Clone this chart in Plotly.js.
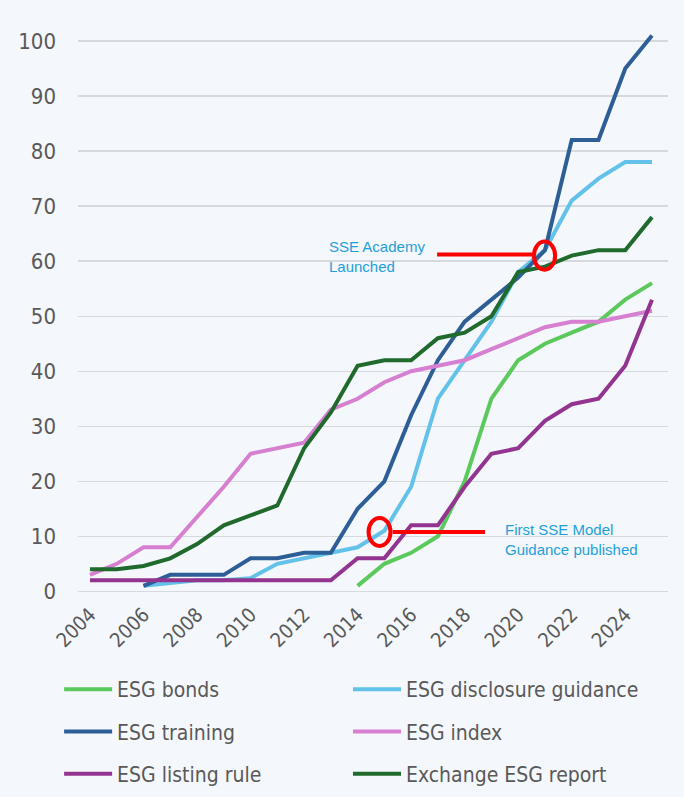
<!DOCTYPE html>
<html>
<head>
<meta charset="utf-8">
<script src="https://cdn.plot.ly/plotly-3.0.1.min.js"></script>
<style>
  html, body { margin: 0; padding: 0; background: #f4f7fb; }
  #chart { width: 684px; height: 797px; }
</style>
</head>
<body>
<div id="chart"></div>
<script>
// ---------------- data ----------------
const years = [2004,2005,2006,2007,2008,2009,2010,2011,2012,2013,2014,2015,2016,2017,2018,2019,2020,2021,2022,2023,2024,2025];
const tickYears = [2004,2006,2008,2010,2012,2014,2016,2018,2020,2022,2024];

const esgBonds      = [null,null,null,null,null,null,null,null,null,null,1,5,7,10,20,35,42,45,47,49,53,56];
const esgDisclosure = [null,null,1,1.5,2,2,2.4,5,6,7,8,11,19,35,42,49,58,62,71,75,78,78];
const esgTraining   = [null,null,1,3,3,3,6,6,7,7,15,20,32,42,49,53,57,62,82,82,95,101];
const esgIndex      = [3,5,8,8,13.5,19,25,26,27,33,35,38,40,41,42,44,46,48,49,49,50,51];
const esgListing    = [2,2,2,2,2,2,2,2,2,2,6,6,12,12,19,25,26,31,34,35,41,53];
const exchReport    = [4,4,4.6,6,8.6,12,13.8,15.6,26,32.5,41,42,42,46,47,50,58,59,61,62,62,68];

const seriesNames  = ["ESG bonds","ESG disclosure guidance","ESG training","ESG index","ESG listing rule","Exchange ESG report"];
const seriesColors = ["#5cc95c","#62c2ea","#2d5f96","#d77fd1","#933490","#1f6a2c"];
const seriesLegend = ["legend","legend2","legend","legend2","legend","legend2"];
const seriesValues = [esgBonds, esgDisclosure, esgTraining, esgIndex, esgListing, exchReport];

// annotated events
const academyYear = 2021, academyValue = 61;
const guidanceYear = 2014.82, guidanceValue = 10.8;
const academyText = "SSE Academy<br>Launched";
const guidanceText = "First SSE Model<br>Guidance published";

// ---------------- chart ----------------
const narrow = '"Liberation Sans Narrow", "Arial Narrow", "DejaVu Sans Condensed", sans-serif';
const regular = '"Liberation Sans", Arial, sans-serif';
const grey = '#595959';
const red = '#ff0000';
const blueText = '#1ea0da';

const traces = seriesNames.map((n, i) => ({
  type: 'scatter', mode: 'lines', name: n,
  x: years, y: seriesValues[i],
  line: { color: seriesColors[i], width: 4 },
  connectgaps: false,
  legend: seriesLegend[i], legendgroup: 'g' + i,
  hoverinfo: 'x+y+name'
}));

const legendCommon = {
  orientation: 'v', bgcolor: 'rgba(0,0,0,0)', borderwidth: 0,
  font: { family: narrow, size: 21, color: grey },
  tracegroupgap: 12, itemwidth: 48,
  xanchor: 'left', yanchor: 'top', traceorder: 'grouped'
};

const layout = {
  width: 684, height: 797,
  paper_bgcolor: '#f4f7fb', plot_bgcolor: '#f4f7fb',
  margin: { l: 78, r: 16, t: 30, b: 204, autoexpand: false },
  showlegend: true,
  xaxis: {
    range: [2003.552, 2025.598],
    tickvals: tickYears, ticktext: tickYears.map(String),
    tickangle: -45, showgrid: false, zeroline: false, showline: false,
    ticks: '', ticklabelstandoff: 5,
    tickfont: { family: narrow, size: 20, color: grey }
  },
  yaxis: {
    range: [-0.3, 102], tickvals: [0,10,20,30,40,50,60,70,80,90,100],
    showgrid: true, gridcolor: '#d6d9de', gridwidth: 1.3,
    zeroline: false, showline: false, ticks: '',
    ticklabelstandoff: 21,
    tickfont: { family: narrow, size: 22, color: grey }
  },
  legend: Object.assign({}, legendCommon, { x: -0.032, y: -0.135 }),
  legend2: Object.assign({}, legendCommon, { x: 0.4576, y: -0.135 }),
  shapes: [
    { type: 'line', xref: 'x', yref: 'y', x0: 2016.97, x1: 2020.55, y0: academyValue + 0.2, y1: academyValue + 0.2,
      line: { color: red, width: 4 } },
    { type: 'circle', xref: 'x', yref: 'y', x0: academyYear - 0.41, x1: academyYear + 0.38, y0: academyValue - 2.55, y1: academyValue + 2.55,
      line: { color: red, width: 4 } },
    { type: 'line', xref: 'x', yref: 'y', x0: guidanceYear + 0.49, x1: 2018.76, y0: guidanceValue, y1: guidanceValue,
      line: { color: red, width: 4 } },
    { type: 'circle', xref: 'x', yref: 'y', x0: guidanceYear - 0.41, x1: guidanceYear + 0.41, y0: guidanceValue - 2.55, y1: guidanceValue + 2.55,
      line: { color: red, width: 4 } }
  ],
  annotations: [
    { xref: 'x', yref: 'y', x: 2012.85, y: 60.9, text: academyText, showarrow: false,
      xanchor: 'left', yanchor: 'middle', align: 'left',
      font: { family: regular, size: 15, color: blueText } },
    { xref: 'x', yref: 'y', x: 2019.43, y: 9.4, text: guidanceText, showarrow: false,
      xanchor: 'left', yanchor: 'middle', align: 'left',
      font: { family: regular, size: 15, color: blueText } }
  ]
};

Plotly.newPlot('chart', traces, layout, { displayModeBar: false, staticPlot: true });
</script>
</body>
</html>
